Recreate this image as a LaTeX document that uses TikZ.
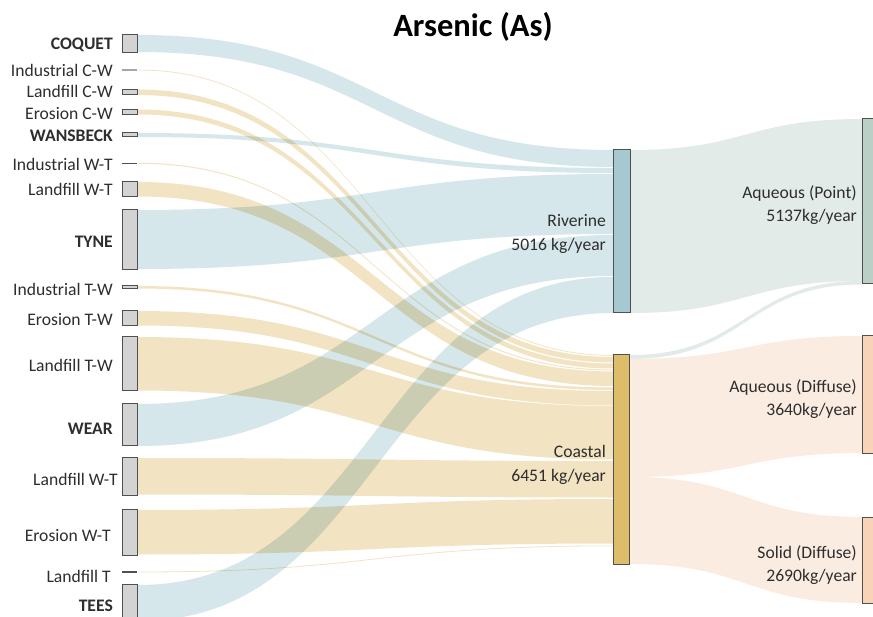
\documentclass[tikz,border=0pt]{standalone}
\usepackage{fontspec}
\setmainfont{Carlito}
\definecolor{flowblue}{HTML}{D6E7EB}
\definecolor{flowtan}{HTML}{F2E3C2}
\definecolor{flowgrey}{HTML}{E3EBE8}
\definecolor{flowpeach}{HTML}{FBECE1}
\definecolor{boxgrey}{HTML}{D3D3D3}
\definecolor{edgegrey}{HTML}{505050}
\definecolor{rivfill}{HTML}{A6C8D0}
\definecolor{coastfill}{HTML}{DDBD6A}
\definecolor{pointfill}{HTML}{BACFC6}
\definecolor{peachfill}{HTML}{F8D3B8}
\definecolor{txt}{HTML}{2E2E2E}
\newcommand\flowband[7]{%
  \pgfmathsetmacro\fxm{(#2+#5)/2}%
  \fill[#1] (#2,#3) .. controls (\fxm,#3) and (\fxm,#6) .. (#5,#6) -- (#5,#7) .. controls (\fxm,#7) and (\fxm,#4) .. (#2,#4) -- cycle;}
\newcommand\rectnode[6]{%
  \pgfmathsetmacro\rcx{(#3+#5)/2}\pgfmathsetmacro\rcy{(#4+#6)/2}%
  \pgfmathsetmacro\rwd{#5-#3}\pgfmathsetmacro\rht{#6-#4}%
  \node[#2,minimum width=\rwd pt,minimum height=\rht pt] (#1) at (\rcx,\rcy) {};}
\tikzset{
  lbox/.style={draw=edgegrey,line width=1pt,fill=boxgrey,inner sep=0pt,outer sep=0pt},
  mbox/.style={draw=edgegrey,line width=1pt,inner sep=0pt,outer sep=0pt},
  lab/.style={text=txt,font=\fontsize{17.6}{23}\selectfont,inner sep=0pt,anchor=base east},
  mlab/.style={text=txt,font=\fontsize{17.6}{23.5}\selectfont,inner sep=0pt,anchor=east,align=right},
  thinline/.style={line width=1.2pt},
}
\begin{document}
\begin{tikzpicture}[x=1pt,y=-1pt]
\useasboundingbox (0,0) rectangle (873,617);
\fill[white] (0,0) rectangle (873,617);
% flows
\begin{scope}[blend group=multiply]
% to Riverine
\flowband{flowblue}{138}{35}{52}{613}{150}{167}
\flowband{flowblue}{138}{133}{137}{613}{168}{173}
\flowband{flowblue}{138}{210}{269}{613}{174}{234}
\flowband{flowblue}{138}{404}{446}{613}{235}{276}
\flowband{flowblue}{138}{585}{621}{613}{277}{313}
% to Coastal
\flowband{flowtan}{138}{69.6}{70.4}{613}{355}{355.8}
\flowband{flowtan}{138}{89.5}{95}{613}{357}{362.5}
\flowband{flowtan}{138}{109.5}{114.5}{613}{363.5}{368.5}
\flowband{flowtan}{138}{162.8}{163.8}{613}{369.5}{370.5}
\flowband{flowtan}{138}{182}{196.5}{613}{371.5}{386}
\flowband{flowtan}{138}{286}{288.5}{613}{387.5}{390}
\flowband{flowtan}{138}{311}{325.5}{613}{391}{405.5}
\flowband{flowtan}{138}{337}{390.5}{613}{406}{459.5}
\flowband{flowtan}{138}{458}{494.5}{613}{461}{497.5}
\flowband{flowtan}{138}{510}{554.5}{613}{499}{543.5}
\flowband{flowtan}{138}{571.6}{572.4}{613}{545.5}{546.3}
\end{scope}
% to outputs
\flowband{flowgrey}{630}{150}{313}{862}{119}{281}
\flowband{flowgrey}{630}{355}{359}{862}{281}{284.5}
\flowband{flowpeach}{630}{359}{477}{862}{336}{453}
\flowband{flowpeach}{630}{477}{564}{862}{517}{603}
% left boxes
\rectnode{coquet}{lbox}{122}{34.5}{137}{52.5}
\rectnode{lcw}{lbox}{122}{89.5}{137}{94.5}
\rectnode{ecw}{lbox}{122}{109.5}{137}{114.5}
\rectnode{wansbeck}{lbox}{122}{132.5}{137}{137}
\rectnode{lwt}{lbox}{122}{181.5}{137}{197}
\rectnode{tyne}{lbox}{122}{209.5}{137}{269.5}
\rectnode{indtw}{lbox}{122}{286}{137}{289}
\rectnode{etw}{lbox}{122}{310.5}{137}{326}
\rectnode{ltw}{lbox}{122}{336.5}{137}{391}
\rectnode{wear}{lbox}{122}{403.5}{137}{446}
\rectnode{lwtb}{lbox}{122}{457}{137}{495}
\rectnode{ewt}{lbox}{122}{509}{137}{555}
\rectnode{tees}{lbox}{122}{584.5}{137}{622}
\coordinate (icwa) at (122,70); \coordinate (icwb) at (137,70);
\draw[thinline,draw=gray!70] (icwa) -- (icwb);
\coordinate (iwta) at (122,163.3); \coordinate (iwtb) at (137,163.3);
\draw[thinline,draw=edgegrey] (iwta) -- (iwtb);
\coordinate (lta) at (122,572); \coordinate (ltb) at (137,572);
\draw[thinline,draw=edgegrey] (lta) -- (ltb);
% middle and right boxes
\rectnode{riverine}{mbox,fill=rivfill}{613}{150}{630}{313}
\rectnode{coastal}{mbox,fill=coastfill}{613}{355}{629.5}{564}
\rectnode{aqpoint}{mbox,fill=pointfill}{862}{119}{880}{284}
\rectnode{aqdiff}{mbox,fill=peachfill}{862}{336}{880}{453}
\rectnode{solid}{mbox,fill=peachfill}{862}{517}{880}{603}
% left labels
\node[lab] (tcoquet) at (113,49.5) {\textbf{COQUET}};
\node[lab] (ticw) at (113,77) {Industrial C-W};
\node[lab] (tlcw) at (113,98) {Landfill C-W};
\node[lab] (tecw) at (113,119.5) {Erosion C-W};
\node[lab] (twans) at (113,142) {\textbf{WANSBECK}};
\node[lab] (tiwt) at (113,171) {Industrial W-T};
\node[lab] (tlwt) at (113,195.5) {Landfill W-T};
\node[lab] (ttyne) at (113,247.5) {\textbf{TYNE}};
\node[lab] (titw) at (113,295.5) {Industrial T-W};
\node[lab] (tetw) at (113,326) {Erosion T-W};
\node[lab] (tltw) at (113,372) {Landfill T-W};
\node[lab] (twear) at (113,434.5) {\textbf{WEAR}};
\node[lab] (tlwtb) at (118,485.5) {Landfill W-T};
\node[lab] (tewt) at (111,541.5) {Erosion W-T};
\node[lab] (tlt) at (111,582) {Landfill T};
\node[lab] (ttees) at (113,611.5) {\textbf{TEES}};
% middle/right labels
\node[mlab] (triv) at (606,234) {Riverine\\5016 kg/year};
\node[mlab] (tcoast) at (606,465) {Coastal\\6451 kg/year};
\node[mlab] (tpoint) at (857,205) {Aqueous (Point)\\5137kg/year};
\node[mlab] (tdiff) at (857,399) {Aqueous (Diffuse)\\3640kg/year};
\node[mlab] (tsolid) at (857,565) {Solid (Diffuse)\\2690kg/year};
% title
\node[font=\fontsize{32.5}{36}\selectfont\bfseries,text=black,anchor=base,inner sep=0pt] (title) at (473,37) {Arsenic (As)};
\end{tikzpicture}
\end{document}
